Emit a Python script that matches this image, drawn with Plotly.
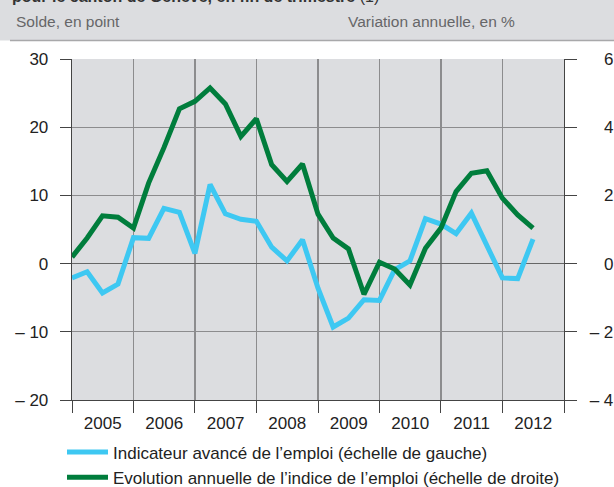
import plotly.graph_objects as go

quarters = [
    "2005-01-01", "2005-04-01", "2005-07-01", "2005-10-01",
    "2006-01-01", "2006-04-01", "2006-07-01", "2006-10-01",
    "2007-01-01", "2007-04-01", "2007-07-01", "2007-10-01",
    "2008-01-01", "2008-04-01", "2008-07-01", "2008-10-01",
    "2009-01-01", "2009-04-01", "2009-07-01", "2009-10-01",
    "2010-01-01", "2010-04-01", "2010-07-01", "2010-10-01",
    "2011-01-01", "2011-04-01", "2011-07-01", "2011-10-01",
    "2012-01-01", "2012-04-01", "2012-07-01",
]
indicateur = [-2.1, -1.2, -4.3, -3.0, 3.8, 3.7, 8.1, 7.5, 1.5, 11.6, 7.3,
              6.5, 6.2, 2.4, 0.4, 3.5, -3.6, -9.3, -8.0, -5.3, -5.4, -0.9,
              0.4, 6.6, 5.8, 4.4, 7.4, 2.6, -2.1, -2.2, 3.6]
evolution = [0.19, 0.75, 1.4, 1.36, 1.04, 2.36, 3.4, 4.54, 4.76, 5.15, 4.68,
             3.73, 4.25, 2.9, 2.41, 2.92, 1.45, 0.75, 0.43, -0.9, 0.04, -0.16,
             -0.63, 0.45, 1.04, 2.11, 2.65, 2.72, 1.92, 1.43, 1.04]

left_vals = [-20, -10, 0, 10, 20, 30]
left_text = ["– 20", "– 10", "0", "10", "20", "30"]
right_vals = [-4, -2, 0, 2, 4, 6]
pad = "<span style='color:rgba(0,0,0,0)'>–</span> "
right_text = ["– 4", "– 2", pad + "0", pad + "2", pad + "4", pad + "6"]

name_blue = "Indicateur avancé de l’emploi (échelle de gauche)"
name_green = "Evolution annuelle de l’indice de l’emploi (échelle de droite)"
title_txt = "<b>pour le canton de Genève, en fin de trimestre</b> (1)"
sub_left = "Solde, en point"
sub_right = "Variation annuelle, en %"

BLUE = "#3ec8f2"
GREEN = "#007d3c"
GRID = "#8c8c8e"
BG = "#dcdde0"
FONT = "Liberation Sans, Arial, sans-serif"

fig = go.Figure()
fig.add_trace(go.Scatter(x=quarters, y=indicateur, mode="lines", name=name_blue,
                         line=dict(color=BLUE, width=5), yaxis="y"))
fig.add_trace(go.Scatter(x=quarters, y=evolution, mode="lines", name=name_green,
                         line=dict(color=GREEN, width=5), yaxis="y2"))

W, H = 614, 487
L, R, T, B = 72, 50, 59, 87
PW, PH = W - L - R, H - T - B


def px(xp):
    return (xp - L) / PW


def py(yp):
    return (H - B - yp) / PH


fig.update_layout(
    width=W, height=H,
    margin=dict(l=L, r=R, t=T, b=B, autoexpand=False),
    paper_bgcolor="white",
    plot_bgcolor=BG,
    font=dict(family=FONT, size=17, color="#222222"),
    showlegend=True,
    legend=dict(x=px(62), y=py(434.5), xanchor="left", yanchor="top",
                bgcolor="rgba(0,0,0,0)", font=dict(size=17, color="#222222"),
                tracegroupgap=0, itemclick=False, itemwidth=41),
    xaxis=dict(
        type="date",
        range=["2005-01-01", "2013-01-01"],
        dtick="M12", tick0="2005-01-01",
        tickformat="%Y", ticklabelmode="period",
        showgrid=True, gridcolor=GRID, gridwidth=1.3,
        ticks="outside", ticklen=12, tickcolor="#444", tickwidth=1,
        showline=True, linecolor="#444", linewidth=1.3, mirror=False,
        zeroline=False,
        tickfont=dict(size=17, color="#222222"),
        ticklabelstandoff=-5,
        fixedrange=True,
    ),
    yaxis=dict(
        range=[-20, 30], tickvals=left_vals, ticktext=left_text,
        showgrid=True, gridcolor=GRID, gridwidth=1.3,
        zeroline=True, zerolinecolor="#666", zerolinewidth=1.6,
        ticks="outside", ticklen=11, tickcolor="#444", tickwidth=1,
        showline=True, linecolor="#444", linewidth=1.3,
        tickfont=dict(size=17, color="#222222"),
        ticklabelstandoff=8,
        fixedrange=True,
    ),
    yaxis2=dict(
        range=[-4, 6], tickvals=right_vals, ticktext=right_text,
        overlaying="y", side="right", showgrid=False, zeroline=False,
        ticks="outside", ticklen=12, tickcolor="#444", tickwidth=1,
        showline=True, linecolor="#444", linewidth=1.3,
        tickfont=dict(size=17, color="#222222"),
        ticklabelstandoff=9,
        fixedrange=True,
    ),
    shapes=[
        dict(type="rect", xref="paper", yref="paper",
             x0=px(0), x1=px(W), y0=py(40.5), y1=py(0),
             fillcolor=BG, line=dict(width=0), layer="below"),
        dict(type="line", xref="paper", yref="paper",
             x0=px(10), x1=px(W), y0=py(40.5), y1=py(40.5),
             line=dict(color="#a8a8aa", width=1.5)),
    ],
    annotations=[
        dict(text=title_txt, xref="paper", yref="paper",
             x=px(10), y=py(-3), xanchor="left", yanchor="middle",
             showarrow=False, font=dict(size=16, color="#333333")),
        dict(text=sub_left, xref="paper", yref="paper",
             x=px(14), y=py(21), xanchor="left", yanchor="middle",
             showarrow=False, font=dict(size=15.5, color="#666668")),
        dict(text=sub_right, xref="paper", yref="paper",
             x=px(517), y=py(21), xanchor="right", yanchor="middle",
             showarrow=False, font=dict(size=15.5, color="#666668")),
    ],
)

fig.write_html(
    "out.html",
    config={"displayModeBar": False, "staticPlot": True},
    post_script="document.body.style.margin='0px';"
                "document.body.style.overflow='hidden';",
)
